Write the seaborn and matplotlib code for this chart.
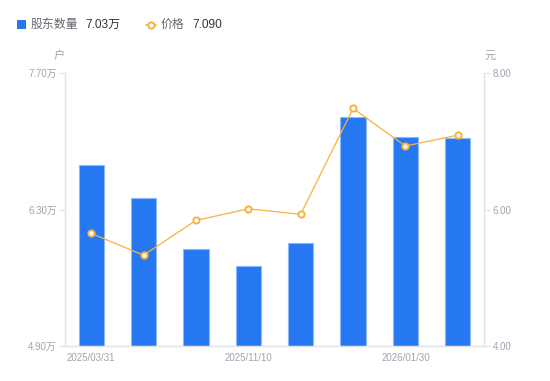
import numpy as np
import pandas as pd
import matplotlib
matplotlib.use('Agg')
import matplotlib.pyplot as plt
from matplotlib.patches import Rectangle
from matplotlib.lines import Line2D
import seaborn as sns

# data
dates = ["2025/03/31", "2025/06/30", "2025/09/30", "2025/11/10",
         "2025/11/28", "2025/12/31", "2026/01/30", "2026/02/27"]
holders = [6.76, 6.42, 5.90, 5.72, 5.96, 7.25, 7.04, 7.03]   # 万户
price = [5.65, 5.33, 5.84, 6.01, 5.93, 7.48, 6.93, 7.09]     # 元
left_ticks = [4.90, 6.30, 7.70]
right_ticks = [4.00, 6.00, 8.00]
shown_labels = [0, 3, 6]

BLUE = "#2577F2"
ORANGE = "#F8B13E"
GRAY = "#A2A2B0"
AXIS = "#E3E3E8"

sns.set_style("white")
plt.rcParams['font.family'] = ['Liberation Sans', 'Noto Sans CJK SC', 'DejaVu Sans']

df = pd.DataFrame({"date": dates, "holders": holders, "price": price})

fig = plt.figure(figsize=(5.5, 3.81), dpi=100)
ax = fig.add_axes([65 / 550, 1 - 346 / 381, (484 - 65) / 550, (346 - 73) / 381])

sns.barplot(data=df, x="date", y="holders", color=BLUE, width=0.48,
            edgecolor="#8DB9F8", linewidth=0.8, saturation=1, ax=ax)
ax.set_ylim(left_ticks[0], left_ticks[-1])
ax.set_yticks(left_ticks)
ax.set_yticklabels([f"{v:.2f}万" for v in left_ticks])

ax2 = ax.twinx()
sns.pointplot(data=df, x="date", y="price", color=ORANGE, markers="o",
              linewidth=0.9, markersize=4.5, markerfacecolor="white",
              markeredgecolor=ORANGE, markeredgewidth=1.4, ax=ax2)
ax2.set_ylim(right_ticks[0], right_ticks[-1])
ax2.set_yticks(right_ticks)
ax2.set_yticklabels([f"{v:.2f}" for v in right_ticks])

ax.set_xlim(-0.5, len(dates) - 0.5)
ax.set_xticks(range(len(dates)))
ax.set_xticklabels([d if i in shown_labels else "" for i, d in enumerate(dates)])

for a in (ax, ax2):
    a.set_xlabel("")
    a.set_ylabel("")
    for s in a.spines.values():
        s.set_color(AXIS)
        s.set_linewidth(0.9)
    a.spines["top"].set_visible(False)
    a.tick_params(axis="y", length=4, width=0.9, color=AXIS, pad=2,
                  labelsize=7, labelcolor=GRAY)
    a.tick_params(axis="x", length=0, pad=5, labelsize=7, labelcolor=GRAY)
    a.grid(False)

# units
fig.text(59 / 550, 1 - 56 / 381, "户", fontsize=8, color=GRAY, ha="center", va="center")
fig.text(490 / 550, 1 - 56 / 381, "元", fontsize=8, color=GRAY, ha="center", va="center")

# legend
fig.patches.append(Rectangle((17 / 550, 1 - 28.5 / 381), 9 / 550, 9 / 381,
                             transform=fig.transFigure, facecolor=BLUE,
                             edgecolor="none"))
fig.text(31 / 550, 1 - 24.5 / 381, "股东数量", fontsize=8.6, color="#666670", va="center")
fig.text(85 / 550, 1 - 24.5 / 381, f"{holders[-1]:.2f}万", fontsize=8.6, color="#333333", va="center")
fig.lines.append(Line2D([146 / 550, 156 / 550], [1 - 24.5 / 381] * 2,
                        transform=fig.transFigure, color=ORANGE, linewidth=1.2))
fig.lines.append(Line2D([151 / 550], [1 - 24.5 / 381], transform=fig.transFigure,
                        color=ORANGE, marker="o", markersize=4.5,
                        markerfacecolor="white", markeredgewidth=1.4))
fig.text(161 / 550, 1 - 24.5 / 381, "价格", fontsize=8.6, color="#666670", va="center")
fig.text(192 / 550, 1 - 24.5 / 381, f"{price[-1]:.3f}", fontsize=8.6, color="#333333", va="center")

fig.savefig("out.png", dpi=100)
